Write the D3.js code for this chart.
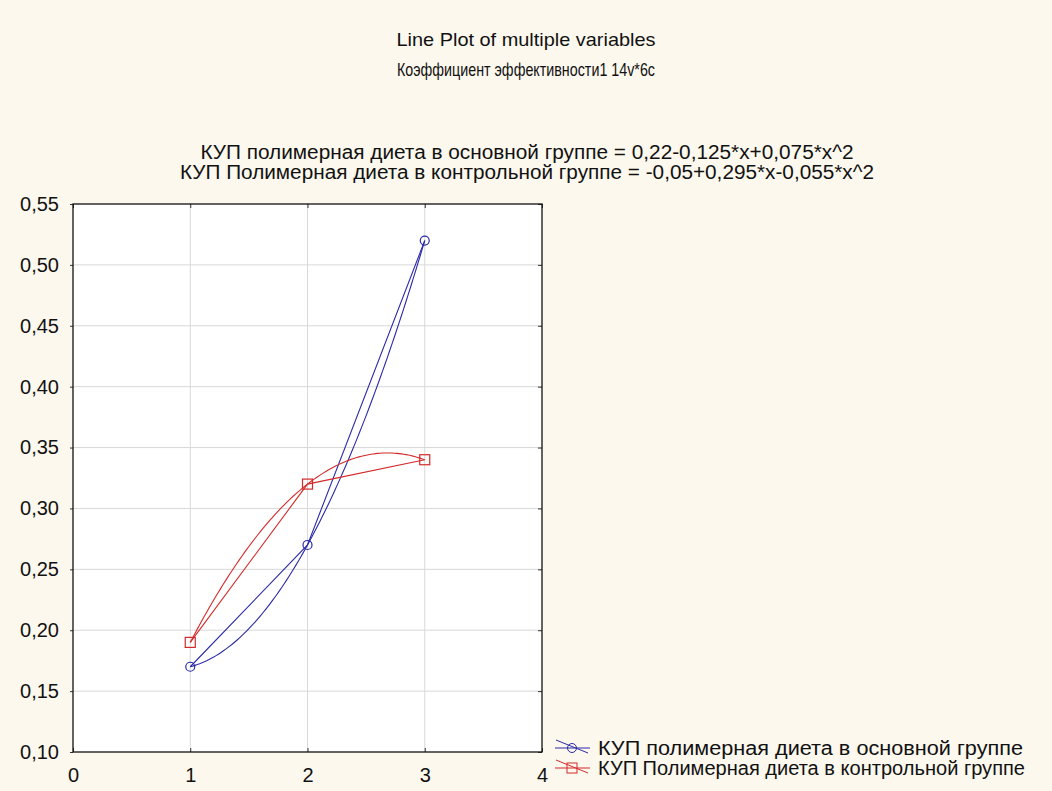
<!DOCTYPE html>
<html>
<head>
<meta charset="utf-8">
<script src="https://cdn.jsdelivr.net/npm/d3@7"></script>
<style>
  body { margin: 0; background: #fcf8ee; }
  svg { display: block; }
  text { font-family: "Liberation Sans", Arial, sans-serif; }
</style>
</head>
<body>
<svg id="chart" width="1052" height="791"></svg>
<script>
// data
const xValues = [1, 2, 3];
const mainGroup = [0.17, 0.27, 0.52];     // КУП полимерная диета в основной группе
const controlGroup = [0.19, 0.32, 0.34];  // КУП Полимерная диета в контрольной группе
const seriesNames = [
    "КУП полимерная диета в основной группе",
    "КУП Полимерная диета в контрольной группе"
];
const titleLines = ["Line Plot of multiple variables", "Коэффициент эффективности1 14v*6c"];
const equationLines = [
    "КУП полимерная диета в основной группе = 0,22-0,125*x+0,075*x^2",
    "КУП Полимерная диета в контрольной группе = -0,05+0,295*x-0,055*x^2"
];
const xTicks = [0, 1, 2, 3, 4];
const yTicks = [0.10, 0.15, 0.20, 0.25, 0.30, 0.35, 0.40, 0.45, 0.50, 0.55];

const series = [
    { name: seriesNames[0], values: mainGroup, color: "#2a2aa8", marker: "circle" },
    { name: seriesNames[1], values: controlGroup, color: "#d42a2a", marker: "square" }
];

const svg = d3.select("#chart");
const margin = { left: 73, top: 204, right: 510, bottom: 39 };
const width = 1052 - margin.left - margin.right,
    height = 791 - margin.top - margin.bottom;

const x = d3.scaleLinear().domain([0, 4]).range([0, width]);
const y = d3.scaleLinear().domain([0.10, 0.55]).range([height, 0]);

// titles (original font is a condensed one, squeeze to the same width)
const titleWidths = [259, 258];
svg.selectAll("text.title")
    .data(titleLines)
    .join("text")
    .attr("class", "title")
    .attr("x", 526)
    .attr("y", (d, i) => 46 + i * 30)
    .attr("text-anchor", "middle")
    .attr("font-size", 19)
    .attr("fill", "#111")
    .attr("textLength", (d, i) => titleWidths[i])
    .attr("lengthAdjust", "spacingAndGlyphs")
    .text(d => d);

const eqWidths = [653, 694];
svg.selectAll("text.eq")
    .data(equationLines)
    .join("text")
    .attr("class", "eq")
    .attr("x", 527)
    .attr("y", (d, i) => 159 + i * 20)
    .attr("text-anchor", "middle")
    .attr("font-size", 20)
    .attr("fill", "#111")
    .attr("textLength", (d, i) => eqWidths[i])
    .attr("lengthAdjust", "spacingAndGlyphs")
    .text(d => d);

const g = svg.append("g").attr("transform", `translate(${margin.left},${margin.top})`);

g.append("rect")
    .attr("width", width).attr("height", height)
    .attr("fill", "#fff");

// grid
g.append("g")
    .selectAll("line")
    .data(xTicks.slice(1, -1))
    .join("line")
    .attr("x1", d => x(d)).attr("x2", d => x(d))
    .attr("y1", 0).attr("y2", height)
    .attr("stroke", "#d8d8d8");

g.append("g")
    .selectAll("line")
    .data(yTicks.slice(1, -1))
    .join("line")
    .attr("y1", d => y(d)).attr("y2", d => y(d))
    .attr("x1", 0).attr("x2", width)
    .attr("stroke", "#d8d8d8");

// axes
const xAxis = g.append("g")
    .attr("transform", `translate(0,${height})`)
    .call(d3.axisBottom(x).tickValues(xTicks).tickSize(-4).tickPadding(12).tickFormat(d3.format("d")));
const yAxis = g.append("g")
    .call(d3.axisLeft(y).tickValues(yTicks).tickSize(3).tickPadding(11)
        .tickFormat(d => d3.format(".2f")(d).replace(".", ",")));
g.append("g").attr("transform", `translate(0,0)`)
    .call(d3.axisTop(x).tickValues(xTicks).tickSize(-4).tickFormat(""));
g.append("g").attr("transform", `translate(${width},0)`)
    .call(d3.axisRight(y).tickValues(yTicks).tickSize(-4).tickFormat(""));

g.selectAll(".domain").remove();
g.selectAll(".tick line").attr("stroke", "#333");
g.selectAll(".tick text").attr("font-size", 20).attr("fill", "#111")
    .attr("font-family", "'Liberation Sans', Arial, sans-serif");
xAxis.selectAll(".tick text").attr("dy", "0.9em");

g.append("rect")
    .attr("width", width).attr("height", height)
    .attr("fill", "none").attr("stroke", "#111").attr("stroke-width", 1.3);

// quadratic least-squares fit of the points (as the original software did)
function quadFit(xs, ys) {
    const S = k => d3.sum(xs, v => Math.pow(v, k));
    const T = k => d3.sum(xs, (v, i) => Math.pow(v, k) * ys[i]);
    const A = [[S(0), S(1), S(2)], [S(1), S(2), S(3)], [S(2), S(3), S(4)]];
    const b = [T(0), T(1), T(2)];
    const det = m => m[0][0] * (m[1][1] * m[2][2] - m[1][2] * m[2][1])
        - m[0][1] * (m[1][0] * m[2][2] - m[1][2] * m[2][0])
        + m[0][2] * (m[1][0] * m[2][1] - m[1][1] * m[2][0]);
    const D = det(A);
    return [0, 1, 2].map(c => det(A.map((row, r) => row.map((v, j) => j === c ? b[r] : v))) / D);
}

const line = d3.line().x(d => x(d[0])).y(d => y(d[1]));
const fitDomain = d3.extent(xValues);
const fitXs = d3.range(fitDomain[0], fitDomain[1] + 0.001, 0.02);

series.forEach(s => {
    const pts = xValues.map((v, i) => [v, s.values[i]]);
    const c = quadFit(xValues, s.values);
    const fitPts = fitXs.map(v => [v, c[0] + c[1] * v + c[2] * v * v]);

    g.append("path").datum(fitPts)
        .attr("d", line).attr("fill", "none")
        .attr("stroke", s.color).attr("stroke-width", 1.1);
    g.append("path").datum(pts)
        .attr("d", line).attr("fill", "none")
        .attr("stroke", s.color).attr("stroke-width", 1.1);

    if (s.marker === "circle") {
        g.selectAll(null).data(pts).join("circle")
            .attr("cx", d => x(d[0])).attr("cy", d => y(d[1])).attr("r", 4.5)
            .attr("fill", "none").attr("stroke", s.color).attr("stroke-width", 1.2);
    } else {
        g.selectAll(null).data(pts).join("rect")
            .attr("x", d => x(d[0]) - 5).attr("y", d => y(d[1]) - 5)
            .attr("width", 10).attr("height", 10)
            .attr("fill", "none").attr("stroke", s.color).attr("stroke-width", 1.2);
    }
});

// legend
const legendWidths = [425, 427];
const legend = svg.append("g").attr("class", "legend")
    .attr("transform", "translate(555,748)");
const item = legend.selectAll("g")
    .data(series)
    .join("g")
    .attr("transform", (d, i) => `translate(0,${i * 20})`);
item.append("line")
    .attr("x1", 0).attr("x2", 35).attr("y1", 0).attr("y2", 0)
    .attr("stroke", d => d.color);
item.append("line")
    .attr("x1", 1).attr("x2", 33).attr("y1", -8).attr("y2", 5)
    .attr("stroke", d => d.color);
item.filter(d => d.marker === "circle").append("circle")
    .attr("cx", 17).attr("cy", 0).attr("r", 4.5)
    .attr("fill", "none").attr("stroke", d => d.color);
item.filter(d => d.marker === "square").append("rect")
    .attr("x", 12).attr("y", -5).attr("width", 10).attr("height", 10)
    .attr("fill", "none").attr("stroke", d => d.color);
item.append("text")
    .attr("x", 43).attr("dy", "0.36em")
    .attr("font-size", 20).attr("fill", "#111")
    .attr("textLength", (d, i) => legendWidths[i])
    .attr("lengthAdjust", "spacingAndGlyphs")
    .text(d => d.name);
</script>
</body>
</html>
